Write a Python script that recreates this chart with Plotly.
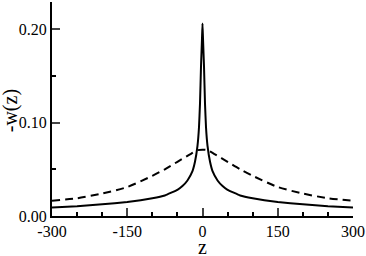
import plotly.graph_objects as go

# values (symmetric about z = 0)
z_solid = [-300, -250, -200, -150, -100, -75, -50, -40, -30, -20, -15, -10, -7, -5, -3, -2, -1, 0,
           1, 2, 3, 5, 7, 10, 15, 20, 30, 40, 50, 75, 100, 150, 200, 250, 300]
w_solid = [0.0092, 0.0105, 0.0125, 0.015, 0.019, 0.022, 0.028, 0.032, 0.038, 0.048, 0.058, 0.075,
           0.095, 0.12, 0.16, 0.175, 0.19, 0.206,
           0.19, 0.175, 0.16, 0.12, 0.095, 0.075, 0.058, 0.048, 0.038, 0.032, 0.028, 0.022, 0.019,
           0.015, 0.0125, 0.0105, 0.0092]

z_dash = [-300, -250, -200, -150, -100, -75, -50, -25, -10, 0, 10, 25, 50, 75, 100, 150, 200, 250, 300]
w_dash = [0.0163, 0.019, 0.024, 0.031, 0.043, 0.050, 0.058, 0.066, 0.0705, 0.071,
          0.0705, 0.066, 0.058, 0.050, 0.043, 0.031, 0.024, 0.019, 0.0163]

x_ticks = [-300, -150, 0, 150, 300]
x_labels = ['-300', '-150', '0', '150', '300']
y_ticks = [0.0, 0.1, 0.2]
y_labels = ['0.00', '0.10', '0.20']

fig = go.Figure()
fig.add_trace(go.Scatter(x=z_dash, y=w_dash, mode='lines', line_shape='spline',
                         line=dict(color='black', width=2, dash='8px,5px', smoothing=0.6),
                         showlegend=False))
fig.add_trace(go.Scatter(x=z_solid, y=w_solid, mode='lines', line_shape='spline',
                         line=dict(color='black', width=2, smoothing=0.3), showlegend=False))

font = 'Liberation Serif'
tickfont = dict(family=font, size=16, color='black')
fig.update_layout(
    width=366, height=256,
    margin=dict(l=52, r=13, t=2, b=40),
    plot_bgcolor='white', paper_bgcolor='white',
    font=dict(family=font, size=16, color='black'),
    xaxis=dict(range=[-300, 300], tickvals=x_ticks, ticktext=x_labels, ticks='inside', ticklen=8,
               tickwidth=1.5, automargin=False, tickfont=tickfont,
               showline=True, linewidth=2, linecolor='black', showgrid=False, zeroline=False,
               minor=dict(dtick=50, tick0=0, ticks='inside', ticklen=4, tickwidth=1.5, tickcolor='black')),
    yaxis=dict(range=[0, 0.229], tickvals=y_ticks, ticktext=y_labels, ticks='inside', ticklen=8,
               tickwidth=1.5, automargin=False, tickfont=tickfont,
               showline=True, linewidth=2, linecolor='black', showgrid=False, zeroline=False,
               minor=dict(dtick=0.05, tick0=0, ticks='inside', ticklen=4, tickwidth=1.5, tickcolor='black')),
)

# axis titles as annotations so they sit where the reference has them
fig.add_annotation(text='z', xref='paper', yref='paper', x=0.5, y=-0.146, showarrow=False,
                   xanchor='center', yanchor='middle', font=dict(family=font, size=20, color='black'))
fig.add_annotation(text='-w(z)', xref='paper', yref='paper', x=-0.137, y=0.493, showarrow=False,
                   textangle=-90, xanchor='center', yanchor='middle',
                   font=dict(family=font, size=20, color='black'))

# drop the default page margin so the figure sits at the window corner
fig.write_html("out.html", config={'displayModeBar': False},
               post_script="document.body.style.margin='0';")
